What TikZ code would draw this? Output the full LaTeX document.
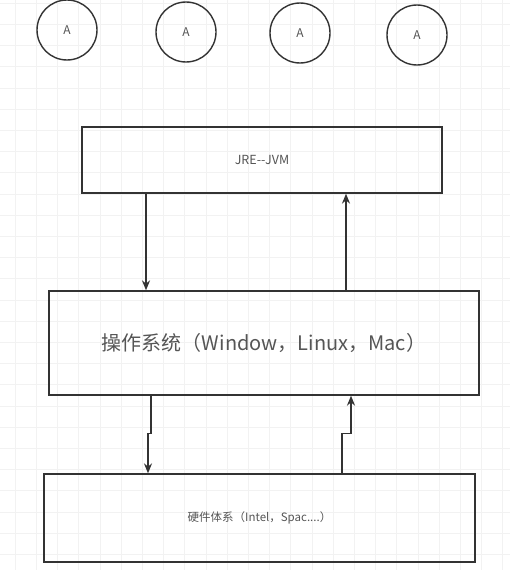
\documentclass[tikz,border=0pt]{standalone}
\usepackage{fontspec}
\setmainfont{Noto Sans CJK SC}
\usepackage{tikz}
\usetikzlibrary{arrows.meta,positioning}

\definecolor{inkgray}{HTML}{333333}
\definecolor{textgray}{HTML}{555555}

\tikzset{
  gridline/.style={draw=black!5,line width=0.5pt},
  unit/.style={circle,draw=inkgray,line width=1.4pt,minimum size=60pt,inner sep=0pt,
    text=textgray,font=\fontsize{12}{12}\selectfont},
  layer/.style={rectangle,draw=inkgray,line width=1.3pt,inner sep=0pt,text=textgray},
  link/.style={->,draw=inkgray,line width=1.3pt}
}

\begin{document}
\begin{tikzpicture}[x=1pt,y=-1pt,>={Stealth[length=10pt,width=8pt]}]
    \useasboundingbox (0,0) rectangle (510,570);
    \fill[white] (0,0) rectangle (510,570);
    % background grid
    \foreach \i in {0,...,24}
      \draw[gridline] ({15+21.2*\i},0) -- ++(0,570);
    \foreach \j in {0,...,27}
      \draw[gridline] (0,{3+21.2*\j}) -- ++(510,0);

    \node[unit] (a1) at (67,30) {A};
    \node[unit] (a2) at (186,32) {A};
    \node[unit] (a3) at (300,33) {A};
    \node[unit] (a4) at (417,35) {A};

    \node[layer,minimum width=360pt,minimum height=66pt,font=\fontsize{12.5}{12.5}\selectfont]
      (jre) at (262,160) {JRE-{}-JVM};
    \node[layer,minimum width=430pt,minimum height=104pt,font=\fontsize{20}{20}\selectfont]
      (os) at (264,343) {操作系统（Window，Linux，Mac）};
    \node[layer,minimum width=431pt,minimum height=88pt,font=\fontsize{11.5}{11.5}\selectfont]
      (hw) at (259.5,518) {硬件体系（Intel，Spac....）};

    \draw[link] ([xshift=-116pt]jre.south) -- ([xshift=-118pt]os.north);
    \draw[link] ([xshift=82pt]os.north) -- ([xshift=84pt]jre.south);

    \draw[link] ([xshift=-113pt]os.south) -- ++(0,38) -| ([xshift=-111.5pt]hw.north);
    \draw[link] ([xshift=82.5pt]hw.north) -- ++(0,-40) -| ([xshift=87pt]os.south);
\end{tikzpicture}
\end{document}
